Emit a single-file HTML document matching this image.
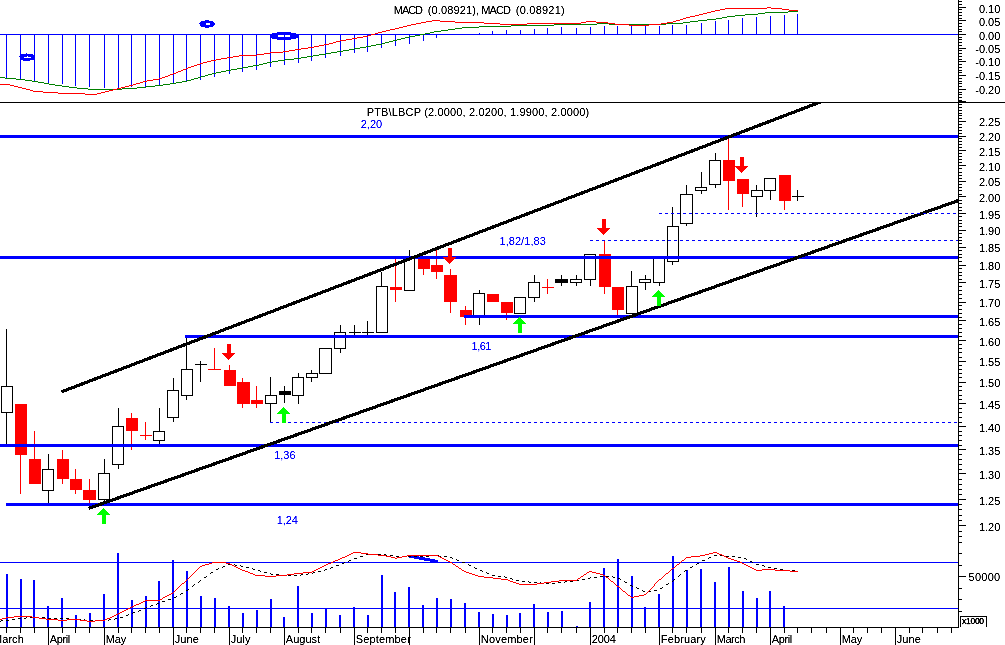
<!DOCTYPE html>
<html lang="en"><head><meta charset="utf-8"><title>PTB\LBCP chart</title>
<style>
html,body{margin:0;padding:0;background:#fff;overflow:hidden}
svg{display:block;font-family:"Liberation Sans",Arial,sans-serif;font-size:11px}
</style></head><body>
<svg width="1005" height="645" viewBox="0 0 1005 645">
<rect x="0" y="0" width="1005" height="645" fill="#fff"/>
<g shape-rendering="crispEdges">
<rect x="6" y="34" width="1" height="45" fill="#00f"/>
<rect x="20" y="34" width="1" height="45" fill="#00f"/>
<rect x="34" y="34" width="1" height="47" fill="#00f"/>
<rect x="48" y="34" width="1" height="49" fill="#00f"/>
<rect x="62" y="34" width="1" height="50" fill="#00f"/>
<rect x="75" y="34" width="1" height="52" fill="#00f"/>
<rect x="89" y="34" width="1" height="53" fill="#00f"/>
<rect x="104" y="34" width="1" height="54" fill="#00f"/>
<rect x="118" y="34" width="1" height="54" fill="#00f"/>
<rect x="131" y="34" width="1" height="53" fill="#00f"/>
<rect x="145" y="34" width="1" height="53" fill="#00f"/>
<rect x="159" y="34" width="1" height="51" fill="#00f"/>
<rect x="173" y="34" width="1" height="50" fill="#00f"/>
<rect x="186" y="34" width="1" height="48" fill="#00f"/>
<rect x="200" y="34" width="1" height="46" fill="#00f"/>
<rect x="214" y="34" width="1" height="43" fill="#00f"/>
<rect x="229" y="34" width="1" height="40" fill="#00f"/>
<rect x="242" y="34" width="1" height="38" fill="#00f"/>
<rect x="256" y="34" width="1" height="36" fill="#00f"/>
<rect x="270" y="34" width="1" height="33" fill="#00f"/>
<rect x="284" y="34" width="1" height="31" fill="#00f"/>
<rect x="298" y="34" width="1" height="29" fill="#00f"/>
<rect x="311" y="34" width="1" height="27" fill="#00f"/>
<rect x="325" y="34" width="1" height="24" fill="#00f"/>
<rect x="340" y="34" width="1" height="22" fill="#00f"/>
<rect x="354" y="34" width="1" height="19" fill="#00f"/>
<rect x="367" y="34" width="1" height="18" fill="#00f"/>
<rect x="381" y="34" width="1" height="14" fill="#00f"/>
<rect x="395" y="34" width="1" height="12" fill="#00f"/>
<rect x="409" y="34" width="1" height="10" fill="#00f"/>
<rect x="423" y="34" width="1" height="7" fill="#00f"/>
<rect x="436" y="34" width="1" height="4" fill="#00f"/>
<rect x="479" y="33" width="1" height="1" fill="#00f"/>
<rect x="492" y="31" width="1" height="3" fill="#00f"/>
<rect x="506" y="30" width="1" height="4" fill="#00f"/>
<rect x="520" y="30" width="1" height="4" fill="#00f"/>
<rect x="534" y="29" width="1" height="5" fill="#00f"/>
<rect x="547" y="28" width="1" height="6" fill="#00f"/>
<rect x="561" y="27" width="1" height="7" fill="#00f"/>
<rect x="576" y="28" width="1" height="6" fill="#00f"/>
<rect x="590" y="27" width="1" height="7" fill="#00f"/>
<rect x="604" y="26" width="1" height="8" fill="#00f"/>
<rect x="617" y="26" width="1" height="8" fill="#00f"/>
<rect x="631" y="26" width="1" height="8" fill="#00f"/>
<rect x="645" y="26" width="1" height="8" fill="#00f"/>
<rect x="659" y="26" width="1" height="8" fill="#00f"/>
<rect x="672" y="25" width="1" height="9" fill="#00f"/>
<rect x="686" y="25" width="1" height="9" fill="#00f"/>
<rect x="701" y="23" width="1" height="11" fill="#00f"/>
<rect x="715" y="21" width="1" height="13" fill="#00f"/>
<rect x="728" y="20" width="1" height="14" fill="#00f"/>
<rect x="742" y="18" width="1" height="16" fill="#00f"/>
<rect x="756" y="17" width="1" height="17" fill="#00f"/>
<rect x="770" y="16" width="1" height="18" fill="#00f"/>
<rect x="784" y="15" width="1" height="19" fill="#00f"/>
<rect x="797" y="14" width="1" height="20" fill="#00f"/>
<rect x="0" y="34" width="958" height="1" fill="#00f"/>
<path d="M0,77h5v1h-5zM5,78h11v1h-11zM16,79h9v1h-9zM25,80h7v1h-7zM32,81h6v1h-6zM38,82h6v1h-6zM44,83h5v1h-5zM49,84h6v1h-6zM55,85h7v1h-7zM62,86h7v1h-7zM69,87h8v1h-8zM77,88h11v1h-11zM88,89h34v1h-34zM122,88h15v1h-15zM137,87h9v1h-9zM146,86h9v1h-9zM155,85h8v1h-8zM163,84h7v1h-7zM170,83h6v1h-6zM176,82h6v1h-6zM182,81h5v1h-5zM187,80h4v1h-4zM191,79h3v1h-3zM194,78h4v1h-4zM198,77h3v1h-3zM201,76h4v1h-4zM205,75h3v1h-3zM208,74h4v1h-4zM212,73h4v1h-4zM216,72h5v1h-5zM221,71h5v1h-5zM226,70h5v1h-5zM231,69h6v1h-6zM237,68h5v1h-5zM242,67h6v1h-6zM248,66h5v1h-5zM253,65h6v1h-6zM259,64h4v1h-4zM263,63h4v1h-4zM267,62h5v1h-5zM272,61h6v1h-6zM278,60h7v1h-7zM285,59h9v1h-9zM294,58h7v1h-7zM301,57h6v1h-6zM307,56h6v1h-6zM313,55h6v1h-6zM319,54h7v1h-7zM326,53h5v1h-5zM331,52h6v1h-6zM337,51h6v1h-6zM343,50h6v1h-6zM349,49h5v1h-5zM354,48h6v1h-6zM360,47h6v1h-6zM366,46h5v1h-5zM371,45h5v1h-5zM376,44h6v1h-6zM382,43h3v1h-3zM385,42h4v1h-4zM389,41h4v1h-4zM393,40h4v1h-4zM397,39h4v1h-4zM401,38h4v1h-4zM405,37h4v1h-4zM409,36h6v1h-6zM415,35h5v1h-5zM420,34h5v1h-5zM425,33h5v1h-5zM430,32h4v1h-4zM434,31h7v1h-7zM441,30h7v1h-7zM448,29h7v1h-7zM455,28h7v1h-7zM462,27h17v1h-17zM479,26h32v1h-32zM511,25h43v1h-43zM554,24h43v1h-43zM597,23h12v1h-12zM609,24h57v1h-57zM666,23h17v1h-17zM683,22h7v1h-7zM690,21h8v1h-8zM698,20h9v1h-9zM707,19h9v1h-9zM716,18h6v1h-6zM722,17h5v1h-5zM727,16h8v1h-8zM735,15h10v1h-10zM745,14h13v1h-13zM758,13h7v1h-7zM765,12h23v1h-23zM788,11h10v1h-10z" fill="#008000"/>
<path d="M0,84h10v1h-10zM10,85h4v1h-4zM14,86h4v1h-4zM18,87h4v1h-4zM22,88h4v1h-4zM26,89h4v1h-4zM30,90h3v1h-3zM33,91h10v1h-10zM43,92h15v1h-15zM58,93h27v1h-27zM85,94h12v1h-12zM97,93h4v1h-4zM101,92h4v1h-4zM105,91h4v1h-4zM109,90h4v1h-4zM113,89h4v1h-4zM117,88h4v1h-4zM121,87h4v1h-4zM125,86h4v1h-4zM129,85h4v1h-4zM133,84h3v1h-3zM136,83h4v1h-4zM140,82h3v1h-3zM143,81h4v1h-4zM147,80h6v1h-6zM153,79h6v1h-6zM159,78h3v1h-3zM162,77h3v1h-3zM165,76h3v1h-3zM168,75h2v1h-2zM170,74h3v1h-3zM173,73h3v1h-3zM176,72h2v1h-2zM178,71h3v1h-3zM181,70h2v1h-2zM183,69h3v1h-3zM186,68h2v1h-2zM188,67h3v1h-3zM191,66h3v1h-3zM194,65h3v1h-3zM197,64h3v1h-3zM200,63h3v1h-3zM203,62h4v1h-4zM207,61h4v1h-4zM211,60h5v1h-5zM216,59h5v1h-5zM221,58h6v1h-6zM227,57h6v1h-6zM233,56h6v1h-6zM239,55h18v1h-18zM257,54h7v1h-7zM264,53h6v1h-6zM270,52h13v1h-13zM283,51h6v1h-6zM289,50h6v1h-6zM295,49h6v1h-6zM301,48h7v1h-7zM308,47h6v1h-6zM314,46h5v1h-5zM319,45h5v1h-5zM324,44h5v1h-5zM329,43h4v1h-4zM333,42h3v1h-3zM336,41h4v1h-4zM340,40h6v1h-6zM346,39h6v1h-6zM352,38h5v1h-5zM357,37h6v1h-6zM363,36h5v1h-5zM368,35h3v1h-3zM371,34h4v1h-4zM375,33h3v1h-3zM378,32h4v1h-4zM382,31h4v1h-4zM386,30h4v1h-4zM390,29h5v1h-5zM395,28h4v1h-4zM399,27h4v1h-4zM403,26h4v1h-4zM407,25h4v1h-4zM411,24h5v1h-5zM416,23h5v1h-5zM421,22h5v1h-5zM426,21h6v1h-6zM432,20h8v1h-8zM440,21h15v1h-15zM455,22h29v1h-29zM484,23h16v1h-16zM500,24h27v1h-27zM527,23h54v1h-54zM581,22h5v1h-5zM586,21h10v1h-10zM596,22h12v1h-12zM608,23h7v1h-7zM615,24h14v1h-14zM629,25h20v1h-20zM649,24h12v1h-12zM661,23h6v1h-6zM667,22h6v1h-6zM673,21h3v1h-3zM676,20h4v1h-4zM680,19h3v1h-3zM683,18h3v1h-3zM686,17h4v1h-4zM690,16h5v1h-5zM695,15h4v1h-4zM699,14h4v1h-4zM703,13h4v1h-4zM707,12h4v1h-4zM711,11h4v1h-4zM715,10h5v1h-5zM720,9h5v1h-5zM725,8h42v1h-42zM767,7h4v1h-4zM771,8h11v1h-11zM782,9h7v1h-7zM789,10h9v1h-9z" fill="#f00"/>
</g>
<path d="M26,53h1v1h-1zM20,54h13v1h-13zM20,55h15v1h-15zM19,56h8v1h-8zM28,56h7v1h-7zM20,57h4v1h-4zM31,57h4v1h-4zM20,58h15v1h-15zM20,59h14v1h-14zM23,60h7v1h-7z" fill="#00f" shape-rendering="crispEdges"/>
<path d="M205,20h4v1h-4zM201,21h12v1h-12zM200,22h14v1h-14zM199,23h7v1h-7zM210,23h5v1h-5zM200,24h6v1h-6zM210,24h5v1h-5zM200,25h14v1h-14zM201,26h12v1h-12zM205,27h4v1h-4z" fill="#00f" shape-rendering="crispEdges"/>
<path d="M277,32h14v1h-14zM272,33h24v1h-24zM269,34h31v1h-31zM270,35h8v1h-8zM284,35h1v1h-1zM290,35h9v1h-9zM270,36h8v1h-8zM284,36h1v1h-1zM290,36h9v1h-9zM271,37h27v1h-27zM272,38h24v1h-24zM277,39h14v1h-14z" fill="#00f" shape-rendering="crispEdges"/>
<g shape-rendering="crispEdges">
<rect x="0" y="102" width="1005" height="1" fill="#000"/>
<rect x="958" y="0" width="1" height="627" fill="#000"/>
<rect x="0" y="627" width="959" height="1" fill="#000"/>
<rect x="959" y="100" width="3" height="1" fill="#000"/>
<rect x="959" y="97" width="3" height="1" fill="#000"/>
<rect x="959" y="94" width="3" height="1" fill="#000"/>
<rect x="959" y="92" width="3" height="1" fill="#000"/>
<rect x="959" y="89" width="7" height="1" fill="#000"/>
<rect x="959" y="86" width="3" height="1" fill="#000"/>
<rect x="959" y="83" width="3" height="1" fill="#000"/>
<rect x="959" y="81" width="3" height="1" fill="#000"/>
<rect x="959" y="78" width="3" height="1" fill="#000"/>
<rect x="959" y="75" width="7" height="1" fill="#000"/>
<rect x="959" y="72" width="3" height="1" fill="#000"/>
<rect x="959" y="70" width="3" height="1" fill="#000"/>
<rect x="959" y="67" width="3" height="1" fill="#000"/>
<rect x="959" y="64" width="3" height="1" fill="#000"/>
<rect x="959" y="61" width="7" height="1" fill="#000"/>
<rect x="959" y="59" width="3" height="1" fill="#000"/>
<rect x="959" y="56" width="3" height="1" fill="#000"/>
<rect x="959" y="53" width="3" height="1" fill="#000"/>
<rect x="959" y="50" width="3" height="1" fill="#000"/>
<rect x="959" y="48" width="7" height="1" fill="#000"/>
<rect x="959" y="45" width="3" height="1" fill="#000"/>
<rect x="959" y="42" width="3" height="1" fill="#000"/>
<rect x="959" y="39" width="3" height="1" fill="#000"/>
<rect x="959" y="37" width="3" height="1" fill="#000"/>
<rect x="959" y="34" width="7" height="1" fill="#000"/>
<rect x="959" y="31" width="3" height="1" fill="#000"/>
<rect x="959" y="29" width="3" height="1" fill="#000"/>
<rect x="959" y="26" width="3" height="1" fill="#000"/>
<rect x="959" y="23" width="3" height="1" fill="#000"/>
<rect x="959" y="20" width="7" height="1" fill="#000"/>
<rect x="959" y="18" width="3" height="1" fill="#000"/>
<rect x="959" y="15" width="3" height="1" fill="#000"/>
<rect x="959" y="12" width="3" height="1" fill="#000"/>
<rect x="959" y="9" width="3" height="1" fill="#000"/>
<rect x="959" y="7" width="7" height="1" fill="#000"/>
<rect x="959" y="4" width="3" height="1" fill="#000"/>
<rect x="959" y="1" width="3" height="1" fill="#000"/>
<rect x="959" y="542" width="3" height="1" fill="#000"/>
<rect x="959" y="536" width="3" height="1" fill="#000"/>
<rect x="959" y="531" width="3" height="1" fill="#000"/>
<rect x="959" y="525" width="7" height="1" fill="#000"/>
<rect x="959" y="520" width="3" height="1" fill="#000"/>
<rect x="959" y="515" width="3" height="1" fill="#000"/>
<rect x="959" y="509" width="3" height="1" fill="#000"/>
<rect x="959" y="504" width="3" height="1" fill="#000"/>
<rect x="959" y="499" width="7" height="1" fill="#000"/>
<rect x="959" y="494" width="3" height="1" fill="#000"/>
<rect x="959" y="489" width="3" height="1" fill="#000"/>
<rect x="959" y="484" width="3" height="1" fill="#000"/>
<rect x="959" y="479" width="3" height="1" fill="#000"/>
<rect x="959" y="473" width="7" height="1" fill="#000"/>
<rect x="959" y="469" width="3" height="1" fill="#000"/>
<rect x="959" y="464" width="3" height="1" fill="#000"/>
<rect x="959" y="459" width="3" height="1" fill="#000"/>
<rect x="959" y="454" width="3" height="1" fill="#000"/>
<rect x="959" y="449" width="7" height="1" fill="#000"/>
<rect x="959" y="445" width="3" height="1" fill="#000"/>
<rect x="959" y="440" width="3" height="1" fill="#000"/>
<rect x="959" y="435" width="3" height="1" fill="#000"/>
<rect x="959" y="431" width="3" height="1" fill="#000"/>
<rect x="959" y="426" width="7" height="1" fill="#000"/>
<rect x="959" y="422" width="3" height="1" fill="#000"/>
<rect x="959" y="417" width="3" height="1" fill="#000"/>
<rect x="959" y="412" width="3" height="1" fill="#000"/>
<rect x="959" y="408" width="3" height="1" fill="#000"/>
<rect x="959" y="403" width="7" height="1" fill="#000"/>
<rect x="959" y="399" width="3" height="1" fill="#000"/>
<rect x="959" y="395" width="3" height="1" fill="#000"/>
<rect x="959" y="390" width="3" height="1" fill="#000"/>
<rect x="959" y="386" width="3" height="1" fill="#000"/>
<rect x="959" y="382" width="7" height="1" fill="#000"/>
<rect x="959" y="377" width="3" height="1" fill="#000"/>
<rect x="959" y="373" width="3" height="1" fill="#000"/>
<rect x="959" y="369" width="3" height="1" fill="#000"/>
<rect x="959" y="365" width="3" height="1" fill="#000"/>
<rect x="959" y="361" width="7" height="1" fill="#000"/>
<rect x="959" y="357" width="3" height="1" fill="#000"/>
<rect x="959" y="352" width="3" height="1" fill="#000"/>
<rect x="959" y="348" width="3" height="1" fill="#000"/>
<rect x="959" y="344" width="3" height="1" fill="#000"/>
<rect x="959" y="340" width="7" height="1" fill="#000"/>
<rect x="959" y="336" width="3" height="1" fill="#000"/>
<rect x="959" y="332" width="3" height="1" fill="#000"/>
<rect x="959" y="328" width="3" height="1" fill="#000"/>
<rect x="959" y="324" width="3" height="1" fill="#000"/>
<rect x="959" y="320" width="7" height="1" fill="#000"/>
<rect x="959" y="317" width="3" height="1" fill="#000"/>
<rect x="959" y="313" width="3" height="1" fill="#000"/>
<rect x="959" y="309" width="3" height="1" fill="#000"/>
<rect x="959" y="305" width="3" height="1" fill="#000"/>
<rect x="959" y="302" width="7" height="1" fill="#000"/>
<rect x="959" y="298" width="3" height="1" fill="#000"/>
<rect x="959" y="294" width="3" height="1" fill="#000"/>
<rect x="959" y="290" width="3" height="1" fill="#000"/>
<rect x="959" y="286" width="3" height="1" fill="#000"/>
<rect x="959" y="282" width="7" height="1" fill="#000"/>
<rect x="959" y="279" width="3" height="1" fill="#000"/>
<rect x="959" y="275" width="3" height="1" fill="#000"/>
<rect x="959" y="272" width="3" height="1" fill="#000"/>
<rect x="959" y="268" width="3" height="1" fill="#000"/>
<rect x="959" y="265" width="7" height="1" fill="#000"/>
<rect x="959" y="261" width="3" height="1" fill="#000"/>
<rect x="959" y="257" width="3" height="1" fill="#000"/>
<rect x="959" y="254" width="3" height="1" fill="#000"/>
<rect x="959" y="250" width="3" height="1" fill="#000"/>
<rect x="959" y="247" width="7" height="1" fill="#000"/>
<rect x="959" y="243" width="3" height="1" fill="#000"/>
<rect x="959" y="240" width="3" height="1" fill="#000"/>
<rect x="959" y="237" width="3" height="1" fill="#000"/>
<rect x="959" y="233" width="3" height="1" fill="#000"/>
<rect x="959" y="230" width="7" height="1" fill="#000"/>
<rect x="959" y="226" width="3" height="1" fill="#000"/>
<rect x="959" y="223" width="3" height="1" fill="#000"/>
<rect x="959" y="220" width="3" height="1" fill="#000"/>
<rect x="959" y="216" width="3" height="1" fill="#000"/>
<rect x="959" y="213" width="7" height="1" fill="#000"/>
<rect x="959" y="210" width="3" height="1" fill="#000"/>
<rect x="959" y="207" width="3" height="1" fill="#000"/>
<rect x="959" y="203" width="3" height="1" fill="#000"/>
<rect x="959" y="200" width="3" height="1" fill="#000"/>
<rect x="959" y="196" width="7" height="1" fill="#000"/>
<rect x="959" y="194" width="3" height="1" fill="#000"/>
<rect x="959" y="190" width="3" height="1" fill="#000"/>
<rect x="959" y="187" width="3" height="1" fill="#000"/>
<rect x="959" y="184" width="3" height="1" fill="#000"/>
<rect x="959" y="181" width="7" height="1" fill="#000"/>
<rect x="959" y="178" width="3" height="1" fill="#000"/>
<rect x="959" y="175" width="3" height="1" fill="#000"/>
<rect x="959" y="172" width="3" height="1" fill="#000"/>
<rect x="959" y="168" width="3" height="1" fill="#000"/>
<rect x="959" y="165" width="7" height="1" fill="#000"/>
<rect x="959" y="162" width="3" height="1" fill="#000"/>
<rect x="959" y="159" width="3" height="1" fill="#000"/>
<rect x="959" y="156" width="3" height="1" fill="#000"/>
<rect x="959" y="153" width="3" height="1" fill="#000"/>
<rect x="959" y="150" width="7" height="1" fill="#000"/>
<rect x="959" y="147" width="3" height="1" fill="#000"/>
<rect x="959" y="144" width="3" height="1" fill="#000"/>
<rect x="959" y="141" width="3" height="1" fill="#000"/>
<rect x="959" y="138" width="3" height="1" fill="#000"/>
<rect x="959" y="136" width="7" height="1" fill="#000"/>
<rect x="959" y="133" width="3" height="1" fill="#000"/>
<rect x="959" y="130" width="3" height="1" fill="#000"/>
<rect x="959" y="127" width="3" height="1" fill="#000"/>
<rect x="959" y="124" width="3" height="1" fill="#000"/>
<rect x="959" y="121" width="7" height="1" fill="#000"/>
<rect x="959" y="118" width="3" height="1" fill="#000"/>
<rect x="959" y="115" width="3" height="1" fill="#000"/>
<rect x="959" y="113" width="3" height="1" fill="#000"/>
<rect x="959" y="110" width="3" height="1" fill="#000"/>
<rect x="959" y="107" width="3" height="1" fill="#000"/>
<rect x="959" y="104" width="3" height="1" fill="#000"/>
<rect x="959" y="101" width="7" height="1" fill="#000"/>
<rect x="959" y="553" width="3" height="1" fill="#000"/>
<rect x="959" y="565" width="3" height="1" fill="#000"/>
<rect x="959" y="576" width="7" height="1" fill="#000"/>
<rect x="959" y="588" width="3" height="1" fill="#000"/>
<rect x="959" y="599" width="3" height="1" fill="#000"/>
<rect x="959" y="611" width="3" height="1" fill="#000"/>
</g>
<g shape-rendering="crispEdges">
<rect x="6" y="329" width="1" height="116" fill="#000"/>
<rect x="1.5" y="386.5" width="11" height="26" fill="#fff" stroke="#000" stroke-width="1"/>
<rect x="20" y="404" width="1" height="90" fill="#f00"/>
<rect x="15" y="404" width="12" height="51" fill="#f00"/>
<rect x="34" y="431" width="1" height="53" fill="#f00"/>
<rect x="29" y="459" width="12" height="25" fill="#f00"/>
<rect x="48" y="454" width="1" height="49" fill="#000"/>
<rect x="42.5" y="469.5" width="11" height="21" fill="#fff" stroke="#000" stroke-width="1"/>
<rect x="62" y="450" width="1" height="34" fill="#f00"/>
<rect x="57" y="459" width="12" height="20" fill="#f00"/>
<rect x="75" y="469" width="1" height="25" fill="#f00"/>
<rect x="70" y="479" width="12" height="11" fill="#f00"/>
<rect x="89" y="479" width="1" height="31" fill="#f00"/>
<rect x="83" y="490" width="13" height="10" fill="#f00"/>
<rect x="104" y="459" width="1" height="43" fill="#000"/>
<rect x="98.5" y="473.5" width="11" height="26" fill="#fff" stroke="#000" stroke-width="1"/>
<rect x="118" y="408" width="1" height="61" fill="#000"/>
<rect x="112.5" y="426.5" width="11" height="38" fill="#fff" stroke="#000" stroke-width="1"/>
<rect x="131" y="413" width="1" height="37" fill="#f00"/>
<rect x="126" y="418" width="12" height="13" fill="#f00"/>
<rect x="145" y="422" width="1" height="18" fill="#f00"/>
<rect x="140" y="435" width="12" height="1" fill="#f00"/>
<rect x="159" y="408" width="1" height="36" fill="#000"/>
<rect x="153.5" y="431.5" width="11" height="9" fill="#fff" stroke="#000" stroke-width="1"/>
<rect x="173" y="378" width="1" height="44" fill="#000"/>
<rect x="167.5" y="390.5" width="11" height="27" fill="#fff" stroke="#000" stroke-width="1"/>
<rect x="186" y="335" width="1" height="65" fill="#000"/>
<rect x="181.5" y="369.5" width="11" height="26" fill="#fff" stroke="#000" stroke-width="1"/>
<rect x="200" y="361" width="1" height="21" fill="#000"/>
<rect x="195" y="364" width="12" height="1" fill="#000"/>
<rect x="214" y="348" width="1" height="21" fill="#f00"/>
<rect x="208" y="369" width="13" height="1" fill="#f00"/>
<rect x="229" y="365" width="1" height="21" fill="#f00"/>
<rect x="224" y="370" width="12" height="16" fill="#f00"/>
<rect x="242" y="378" width="1" height="30" fill="#f00"/>
<rect x="237" y="382" width="13" height="22" fill="#f00"/>
<rect x="256" y="386" width="1" height="22" fill="#f00"/>
<rect x="251" y="400" width="12" height="4" fill="#f00"/>
<rect x="270" y="377" width="1" height="45" fill="#000"/>
<rect x="265.5" y="395.5" width="11" height="8" fill="#fff" stroke="#000" stroke-width="1"/>
<rect x="284" y="386" width="1" height="17" fill="#000"/>
<rect x="279" y="391" width="12" height="4" fill="#000"/>
<rect x="298" y="373" width="1" height="31" fill="#000"/>
<rect x="292.5" y="377.5" width="11" height="18" fill="#fff" stroke="#000" stroke-width="1"/>
<rect x="311" y="370" width="1" height="12" fill="#000"/>
<rect x="306.5" y="373.5" width="11" height="4" fill="#fff" stroke="#000" stroke-width="1"/>
<rect x="325" y="348" width="1" height="25" fill="#000"/>
<rect x="319.5" y="348.5" width="12" height="25" fill="#fff" stroke="#000" stroke-width="1"/>
<rect x="340" y="325" width="1" height="28" fill="#000"/>
<rect x="334.5" y="332.5" width="11" height="16" fill="#fff" stroke="#000" stroke-width="1"/>
<rect x="354" y="325" width="1" height="10" fill="#000"/>
<rect x="349" y="332" width="12" height="1" fill="#000"/>
<rect x="367" y="321" width="1" height="14" fill="#000"/>
<rect x="362" y="332" width="12" height="1" fill="#000"/>
<rect x="381" y="272" width="1" height="60" fill="#000"/>
<rect x="376.5" y="286.5" width="11" height="46" fill="#fff" stroke="#000" stroke-width="1"/>
<rect x="395" y="258" width="1" height="44" fill="#f00"/>
<rect x="390" y="287" width="12" height="3" fill="#f00"/>
<rect x="409" y="250" width="1" height="40" fill="#000"/>
<rect x="404.5" y="258.5" width="10" height="32" fill="#fff" stroke="#000" stroke-width="1"/>
<rect x="423" y="258" width="1" height="17" fill="#f00"/>
<rect x="418" y="258" width="12" height="11" fill="#f00"/>
<rect x="436" y="249" width="1" height="30" fill="#f00"/>
<rect x="431" y="265" width="12" height="7" fill="#f00"/>
<rect x="450" y="269" width="1" height="44" fill="#f00"/>
<rect x="444" y="275" width="13" height="27" fill="#f00"/>
<rect x="465" y="306" width="1" height="19" fill="#f00"/>
<rect x="460" y="310" width="12" height="7" fill="#f00"/>
<rect x="479" y="290" width="1" height="35" fill="#000"/>
<rect x="473.5" y="293.5" width="11" height="23" fill="#fff" stroke="#000" stroke-width="1"/>
<rect x="493" y="294" width="1" height="8" fill="#f00"/>
<rect x="487" y="294" width="12" height="8" fill="#f00"/>
<rect x="506" y="302" width="1" height="18" fill="#f00"/>
<rect x="501" y="302" width="12" height="11" fill="#f00"/>
<rect x="520" y="297" width="1" height="17" fill="#000"/>
<rect x="514.5" y="297.5" width="11" height="16" fill="#fff" stroke="#000" stroke-width="1"/>
<rect x="534" y="275" width="1" height="27" fill="#000"/>
<rect x="528.5" y="282.5" width="11" height="15" fill="#fff" stroke="#000" stroke-width="1"/>
<rect x="547" y="279" width="1" height="15" fill="#f00"/>
<rect x="542" y="287" width="12" height="1" fill="#f00"/>
<rect x="561" y="275" width="1" height="11" fill="#000"/>
<rect x="555" y="279" width="13" height="4" fill="#000"/>
<rect x="576" y="275" width="1" height="11" fill="#000"/>
<rect x="570.5" y="279.5" width="11" height="3" fill="#fff" stroke="#000" stroke-width="1"/>
<rect x="590" y="254" width="1" height="32" fill="#000"/>
<rect x="584.5" y="254.5" width="11" height="25" fill="#fff" stroke="#000" stroke-width="1"/>
<rect x="604" y="240" width="1" height="54" fill="#f00"/>
<rect x="599" y="254" width="12" height="33" fill="#f00"/>
<rect x="617" y="287" width="1" height="28" fill="#f00"/>
<rect x="612" y="287" width="12" height="23" fill="#f00"/>
<rect x="631" y="271" width="1" height="42" fill="#000"/>
<rect x="626.5" y="286.5" width="11" height="27" fill="#fff" stroke="#000" stroke-width="1"/>
<rect x="645" y="275" width="1" height="15" fill="#000"/>
<rect x="639.5" y="279.5" width="11" height="3" fill="#fff" stroke="#000" stroke-width="1"/>
<rect x="659" y="258" width="1" height="28" fill="#000"/>
<rect x="653.5" y="258.5" width="11" height="24" fill="#fff" stroke="#000" stroke-width="1"/>
<rect x="672" y="207" width="1" height="58" fill="#000"/>
<rect x="667.5" y="226.5" width="11" height="35" fill="#fff" stroke="#000" stroke-width="1"/>
<rect x="686" y="185" width="1" height="41" fill="#000"/>
<rect x="680.5" y="194.5" width="12" height="29" fill="#fff" stroke="#000" stroke-width="1"/>
<rect x="701" y="172" width="1" height="22" fill="#000"/>
<rect x="695.5" y="187.5" width="11" height="3" fill="#fff" stroke="#000" stroke-width="1"/>
<rect x="715" y="153" width="1" height="35" fill="#000"/>
<rect x="709.5" y="160.5" width="11" height="24" fill="#fff" stroke="#000" stroke-width="1"/>
<rect x="728" y="139" width="1" height="71" fill="#f00"/>
<rect x="723" y="160" width="12" height="21" fill="#f00"/>
<rect x="742" y="179" width="1" height="28" fill="#f00"/>
<rect x="737" y="179" width="12" height="15" fill="#f00"/>
<rect x="756" y="185" width="1" height="32" fill="#000"/>
<rect x="751.5" y="190.5" width="11" height="6" fill="#fff" stroke="#000" stroke-width="1"/>
<rect x="770" y="178" width="1" height="22" fill="#000"/>
<rect x="764.5" y="178.5" width="11" height="12" fill="#fff" stroke="#000" stroke-width="1"/>
<rect x="784" y="175" width="1" height="35" fill="#f00"/>
<rect x="779" y="175" width="12" height="26" fill="#f00"/>
<rect x="797" y="190" width="1" height="11" fill="#000"/>
<rect x="792" y="196" width="12" height="1" fill="#000"/>
<rect x="0" y="135" width="958" height="3" fill="#00f"/>
<rect x="0" y="256" width="958" height="3" fill="#00f"/>
<rect x="464" y="315" width="494" height="3" fill="#00f"/>
<rect x="185" y="335" width="773" height="3" fill="#00f"/>
<rect x="0" y="444" width="958" height="3" fill="#00f"/>
<rect x="6" y="503" width="952" height="3" fill="#00f"/>
</g>
<g shape-rendering="crispEdges">
<line x1="590" y1="240.5" x2="958" y2="240.5" stroke="#00f" stroke-width="1" stroke-dasharray="3,3"/>
<line x1="270" y1="422.5" x2="958" y2="422.5" stroke="#00f" stroke-width="1" stroke-dasharray="3,3"/>
</g>
<clipPath id="cp"><rect x="0" y="103" width="958" height="524"/></clipPath>
<g clip-path="url(#cp)" stroke="#000" stroke-width="3.2" shape-rendering="crispEdges">
<line x1="61.3" y1="391.9" x2="830.0" y2="98.3"/>
<line x1="88.6" y1="508.4" x2="965.0" y2="198.2"/>
</g>
<g shape-rendering="crispEdges">
<line x1="659" y1="213.5" x2="958" y2="213.5" stroke="#00f" stroke-width="1" stroke-dasharray="3,3"/>
</g>
<path d="M227,344h4v9h-4zM222,353h13v1h-13zM223,354h11v1h-11zM224,355h9v1h-9zM225,356h7v1h-7zM226,357h5v1h-5zM227,358h3v1h-3zM228,359h1v1h-1z" fill="#f00" shape-rendering="crispEdges"/>
<path d="M448,248h4v9h-4zM443,257h13v1h-13zM444,258h11v1h-11zM445,259h9v1h-9zM446,260h7v1h-7zM447,261h5v1h-5zM448,262h3v1h-3zM449,263h1v1h-1z" fill="#f00" shape-rendering="crispEdges"/>
<path d="M602,219h4v9h-4zM597,228h13v1h-13zM598,229h11v1h-11zM599,230h9v1h-9zM600,231h7v1h-7zM601,232h5v1h-5zM602,233h3v1h-3zM603,234h1v1h-1z" fill="#f00" shape-rendering="crispEdges"/>
<path d="M740,157h4v9h-4zM735,166h13v1h-13zM736,167h11v1h-11zM737,168h9v1h-9zM738,169h7v1h-7zM739,170h5v1h-5zM740,171h3v1h-3zM741,172h1v1h-1z" fill="#f00" shape-rendering="crispEdges"/>
<path d="M102,515h4v9h-4zM103,508h1v1h-1zM102,509h3v1h-3zM101,510h5v1h-5zM100,511h7v1h-7zM99,512h9v1h-9zM98,513h11v1h-11zM97,514h13v1h-13z" fill="#0f0" shape-rendering="crispEdges"/>
<path d="M282,414h4v9h-4zM283,407h1v1h-1zM282,408h3v1h-3zM281,409h5v1h-5zM280,410h7v1h-7zM279,411h9v1h-9zM278,412h11v1h-11zM277,413h13v1h-13z" fill="#0f0" shape-rendering="crispEdges"/>
<path d="M518,324h4v9h-4zM519,317h1v1h-1zM518,318h3v1h-3zM517,319h5v1h-5zM516,320h7v1h-7zM515,321h9v1h-9zM514,322h11v1h-11zM513,323h13v1h-13z" fill="#0f0" shape-rendering="crispEdges"/>
<path d="M657,297h4v9h-4zM658,290h1v1h-1zM657,291h3v1h-3zM656,292h5v1h-5zM655,293h7v1h-7zM654,294h9v1h-9zM653,295h11v1h-11zM652,296h13v1h-13z" fill="#0f0" shape-rendering="crispEdges"/>
<g shape-rendering="crispEdges">
<rect x="0" y="562" width="958" height="1" fill="#00f"/>
<rect x="0" y="608" width="958" height="1" fill="#00f"/>
<rect x="6" y="574" width="2" height="53" fill="#00f"/>
<rect x="20" y="579" width="2" height="48" fill="#00f"/>
<rect x="33" y="580" width="2" height="47" fill="#00f"/>
<rect x="47" y="606" width="2" height="21" fill="#00f"/>
<rect x="61" y="598" width="2" height="29" fill="#00f"/>
<rect x="75" y="615" width="2" height="12" fill="#00f"/>
<rect x="89" y="613" width="2" height="14" fill="#00f"/>
<rect x="103" y="594" width="2" height="33" fill="#00f"/>
<rect x="117" y="553" width="2" height="74" fill="#00f"/>
<rect x="131" y="600" width="2" height="27" fill="#00f"/>
<rect x="145" y="596" width="2" height="31" fill="#00f"/>
<rect x="158" y="581" width="2" height="46" fill="#00f"/>
<rect x="172" y="560" width="2" height="67" fill="#00f"/>
<rect x="186" y="571" width="2" height="56" fill="#00f"/>
<rect x="200" y="596" width="2" height="31" fill="#00f"/>
<rect x="214" y="598" width="2" height="29" fill="#00f"/>
<rect x="228" y="606" width="2" height="21" fill="#00f"/>
<rect x="242" y="613" width="2" height="14" fill="#00f"/>
<rect x="256" y="610" width="2" height="17" fill="#00f"/>
<rect x="270" y="599" width="2" height="28" fill="#00f"/>
<rect x="283" y="617" width="2" height="10" fill="#00f"/>
<rect x="297" y="586" width="2" height="41" fill="#00f"/>
<rect x="311" y="613" width="2" height="14" fill="#00f"/>
<rect x="325" y="608" width="2" height="19" fill="#00f"/>
<rect x="339" y="615" width="2" height="12" fill="#00f"/>
<rect x="353" y="607" width="2" height="20" fill="#00f"/>
<rect x="367" y="615" width="2" height="12" fill="#00f"/>
<rect x="381" y="575" width="2" height="52" fill="#00f"/>
<rect x="394" y="592" width="2" height="35" fill="#00f"/>
<rect x="408" y="587" width="2" height="40" fill="#00f"/>
<rect x="422" y="605" width="2" height="22" fill="#00f"/>
<rect x="436" y="598" width="2" height="29" fill="#00f"/>
<rect x="450" y="599" width="2" height="28" fill="#00f"/>
<rect x="464" y="603" width="2" height="24" fill="#00f"/>
<rect x="478" y="612" width="2" height="15" fill="#00f"/>
<rect x="492" y="614" width="2" height="13" fill="#00f"/>
<rect x="506" y="615" width="2" height="12" fill="#00f"/>
<rect x="519" y="613" width="2" height="14" fill="#00f"/>
<rect x="533" y="604" width="2" height="23" fill="#00f"/>
<rect x="547" y="612" width="2" height="15" fill="#00f"/>
<rect x="561" y="611" width="2" height="16" fill="#00f"/>
<rect x="576" y="626" width="2" height="1" fill="#00f"/>
<rect x="589" y="602" width="2" height="25" fill="#00f"/>
<rect x="603" y="568" width="2" height="59" fill="#00f"/>
<rect x="617" y="559" width="2" height="68" fill="#00f"/>
<rect x="631" y="576" width="2" height="51" fill="#00f"/>
<rect x="644" y="607" width="2" height="20" fill="#00f"/>
<rect x="658" y="594" width="2" height="33" fill="#00f"/>
<rect x="672" y="556" width="2" height="71" fill="#00f"/>
<rect x="686" y="570" width="2" height="57" fill="#00f"/>
<rect x="700" y="569" width="2" height="58" fill="#00f"/>
<rect x="714" y="582" width="2" height="45" fill="#00f"/>
<rect x="728" y="567" width="2" height="60" fill="#00f"/>
<rect x="742" y="591" width="2" height="36" fill="#00f"/>
<rect x="756" y="598" width="2" height="29" fill="#00f"/>
<rect x="769" y="591" width="2" height="36" fill="#00f"/>
<rect x="783" y="606" width="2" height="21" fill="#00f"/>
<line x1="408.7" y1="556" x2="437.6" y2="561.5" stroke="#00f" stroke-width="3"/>
<path d="M0,621h1v1h-1zM1,620h2v1h-2zM6,620h3v1h-3zM12,619h3v1h-3zM18,618h3v1h-3zM24,618h2v1h-2zM26,617h1v1h-1zM30,617h3v1h-3zM36,617h3v1h-3zM42,617h3v1h-3zM48,618h3v1h-3zM54,618h3v1h-3zM60,618h3v1h-3zM66,618h3v1h-3zM72,619h3v1h-3zM78,619h3v1h-3zM84,619h1v1h-1zM85,620h2v1h-2zM90,620h3v1h-3zM96,620h3v1h-3zM102,620h3v1h-3zM108,620h1v1h-1zM109,619h2v1h-2zM114,619h1v1h-1zM115,618h2v1h-2zM120,617h3v1h-3zM126,615h2v1h-2zM128,614h1v1h-1zM132,613h1v1h-1zM133,612h2v1h-2zM138,611h1v1h-1zM139,610h2v1h-2zM144,608h2v1h-2zM146,607h1v1h-1zM150,606h1v1h-1zM151,605h2v1h-2zM156,604h1v1h-1zM157,603h2v1h-2zM162,601h3v1h-3zM168,599h3v1h-3zM174,597h2v1h-2zM176,596h1v1h-1zM180,594h1v1h-1zM181,593h2v1h-2zM186,590h2v1h-2zM188,589h1v1h-1zM192,586h1v1h-1zM193,585h1v1h-1zM194,584h1v1h-1zM198,582h1v1h-1zM199,581h1v1h-1zM200,580h1v1h-1zM204,577h2v1h-2zM206,576h1v1h-1zM210,573h1v1h-1zM211,572h2v1h-2zM216,569h2v1h-2zM218,568h1v1h-1zM222,567h1v1h-1zM223,566h2v1h-2zM228,564h3v1h-3zM234,564h1v1h-1zM235,565h2v1h-2zM240,565h1v1h-1zM241,566h2v1h-2zM246,567h3v1h-3zM252,568h1v1h-1zM253,569h2v1h-2zM258,570h2v1h-2zM260,571h1v1h-1zM264,572h3v1h-3zM270,573h1v1h-1zM271,574h2v1h-2zM276,574h3v1h-3zM282,575h3v1h-3zM288,575h3v1h-3zM294,575h3v1h-3zM300,575h1v1h-1zM301,574h2v1h-2zM306,574h2v1h-2zM308,573h1v1h-1zM312,573h1v1h-1zM313,572h2v1h-2zM318,571h3v1h-3zM324,570h1v1h-1zM325,569h2v1h-2zM330,568h1v1h-1zM331,567h2v1h-2zM336,565h3v1h-3zM342,563h2v1h-2zM344,562h1v1h-1zM348,561h1v1h-1zM349,560h2v1h-2zM354,558h3v1h-3zM360,556h3v1h-3zM366,554h3v1h-3zM372,554h3v1h-3zM378,554h3v1h-3zM384,554h2v1h-2zM386,555h1v1h-1zM390,555h3v1h-3zM396,556h3v1h-3zM402,556h3v1h-3zM408,556h3v1h-3zM414,556h3v1h-3zM420,556h3v1h-3zM426,556h3v1h-3zM432,555h3v1h-3zM438,555h1v1h-1zM439,556h2v1h-2zM444,556h3v1h-3zM450,557h2v1h-2zM452,558h1v1h-1zM456,559h1v1h-1zM457,560h2v1h-2zM462,562h3v1h-3zM468,564h1v1h-1zM469,565h2v1h-2zM474,567h1v1h-1zM475,568h2v1h-2zM480,570h2v1h-2zM482,571h1v1h-1zM486,572h1v1h-1zM487,573h2v1h-2zM492,575h3v1h-3zM498,576h3v1h-3zM504,576h1v1h-1zM505,577h2v1h-2zM510,578h2v1h-2zM512,579h1v1h-1zM516,580h3v1h-3zM522,581h3v1h-3zM528,581h1v1h-1zM529,582h2v1h-2zM534,582h3v1h-3zM540,582h1v1h-1zM541,583h2v1h-2zM546,583h3v1h-3zM552,583h3v1h-3zM558,582h3v1h-3zM564,582h1v1h-1zM565,581h2v1h-2zM570,581h3v1h-3zM576,580h3v1h-3zM582,579h3v1h-3zM588,578h2v1h-2zM590,577h1v1h-1zM594,577h3v1h-3zM600,576h3v1h-3zM606,576h3v1h-3zM612,576h1v1h-1zM613,577h2v1h-2zM618,578h2v1h-2zM620,579h1v1h-1zM624,581h1v1h-1zM625,582h2v1h-2zM630,585h2v1h-2zM632,586h1v1h-1zM636,587h1v1h-1zM637,588h2v1h-2zM642,590h1v1h-1zM643,591h2v1h-2zM648,591h3v1h-3zM654,590h3v1h-3zM660,588h2v1h-2zM662,587h1v1h-1zM666,584h2v1h-2zM668,583h1v1h-1zM672,581h1v1h-1zM673,580h1v1h-1zM674,579h1v1h-1zM678,576h1v1h-1zM679,575h1v1h-1zM680,574h1v1h-1zM684,571h1v1h-1zM685,570h2v1h-2zM690,567h2v1h-2zM692,566h1v1h-1zM696,564h1v1h-1zM697,563h2v1h-2zM702,560h3v1h-3zM708,558h1v1h-1zM709,557h2v1h-2zM714,555h3v1h-3zM720,555h3v1h-3zM726,556h3v1h-3zM732,556h3v1h-3zM738,557h3v1h-3zM744,558h2v1h-2zM746,559h1v1h-1zM750,561h2v1h-2zM752,562h1v1h-1zM756,564h3v1h-3zM762,565h2v1h-2zM764,566h1v1h-1zM768,567h3v1h-3zM774,568h3v1h-3zM780,569h3v1h-3zM786,570h3v1h-3zM792,570h3v1h-3z" fill="#000"/>
<path d="M0,619h2v1h-2zM2,618h4v1h-4zM6,617h8v1h-8zM14,616h18v1h-18zM32,617h7v1h-7zM39,618h7v1h-7zM46,619h12v1h-12zM58,620h9v1h-9zM67,619h13v1h-13zM80,620h7v1h-7zM87,621h8v1h-8zM95,620h10v1h-10zM105,619h2v1h-2zM107,618h3v1h-3zM110,617h2v1h-2zM112,616h2v1h-2zM114,615h2v1h-2zM116,614h2v1h-2zM118,613h2v1h-2zM120,612h2v1h-2zM122,611h2v1h-2zM124,610h2v1h-2zM126,609h2v1h-2zM128,608h2v1h-2zM130,607h2v1h-2zM132,606h2v1h-2zM134,605h2v1h-2zM136,604h3v1h-3zM139,603h2v1h-2zM141,602h2v1h-2zM143,601h2v1h-2zM145,600h15v1h-15zM160,599h2v1h-2zM162,598h1v1h-1zM163,597h2v1h-2zM165,596h2v1h-2zM167,595h2v1h-2zM169,594h2v1h-2zM171,593h2v1h-2zM173,592h1v1h-1zM174,591h1v1h-1zM175,590h1v1h-1zM176,589h1v1h-1zM177,588h1v1h-1zM178,587h1v1h-1zM179,586h1v1h-1zM180,585h1v1h-1zM181,584h1v1h-1zM182,583h2v1h-2zM184,582h1v1h-1zM185,581h1v1h-1zM186,580h1v1h-1zM187,579h1v1h-1zM188,578h1v1h-1zM189,577h1v1h-1zM190,576h1v1h-1zM191,575h1v1h-1zM192,574h1v1h-1zM193,573h1v1h-1zM194,572h1v1h-1zM195,571h1v1h-1zM196,570h1v1h-1zM197,569h1v1h-1zM198,568h1v1h-1zM199,567h1v1h-1zM200,566h2v1h-2zM202,565h3v1h-3zM205,564h4v1h-4zM209,563h3v1h-3zM212,562h14v1h-14zM226,563h4v1h-4zM230,564h2v1h-2zM232,565h2v1h-2zM234,566h2v1h-2zM236,567h2v1h-2zM238,568h2v1h-2zM240,569h2v1h-2zM242,570h3v1h-3zM245,571h3v1h-3zM248,572h2v1h-2zM250,573h3v1h-3zM253,574h2v1h-2zM255,575h10v1h-10zM265,576h11v1h-11zM276,575h11v1h-11zM287,574h7v1h-7zM294,573h9v1h-9zM303,572h9v1h-9zM312,571h2v1h-2zM314,570h2v1h-2zM316,569h2v1h-2zM318,568h2v1h-2zM320,567h2v1h-2zM322,566h2v1h-2zM324,565h2v1h-2zM326,564h2v1h-2zM328,563h3v1h-3zM331,562h2v1h-2zM333,561h2v1h-2zM335,560h3v1h-3zM338,559h2v1h-2zM340,558h2v1h-2zM342,557h3v1h-3zM345,556h2v1h-2zM347,555h2v1h-2zM349,554h2v1h-2zM351,553h2v1h-2zM353,552h8v1h-8zM361,553h7v1h-7zM368,554h10v1h-10zM378,555h8v1h-8zM386,556h5v1h-5zM391,557h4v1h-4zM395,558h2v1h-2zM397,557h5v1h-5zM402,556h5v1h-5zM407,555h31v1h-31zM438,556h2v1h-2zM440,557h2v1h-2zM442,558h2v1h-2zM444,559h2v1h-2zM446,560h2v1h-2zM448,561h2v1h-2zM450,562h2v1h-2zM452,563h1v1h-1zM453,564h2v1h-2zM455,565h1v1h-1zM456,566h2v1h-2zM458,567h1v1h-1zM459,568h2v1h-2zM461,569h1v1h-1zM462,570h2v1h-2zM464,571h2v1h-2zM466,572h3v1h-3zM469,573h3v1h-3zM472,574h3v1h-3zM475,575h3v1h-3zM478,576h6v1h-6zM484,577h9v1h-9zM493,578h8v1h-8zM501,579h7v1h-7zM508,580h2v1h-2zM510,581h3v1h-3zM513,582h3v1h-3zM516,583h3v1h-3zM519,584h18v1h-18zM537,583h7v1h-7zM544,582h7v1h-7zM551,581h8v1h-8zM559,580h18v1h-18zM577,579h1v1h-1zM578,578h2v1h-2zM580,577h1v1h-1zM581,576h2v1h-2zM583,575h1v1h-1zM584,574h2v1h-2zM586,573h1v1h-1zM587,572h2v1h-2zM589,571h3v1h-3zM592,572h4v1h-4zM596,573h4v1h-4zM600,574h3v1h-3zM603,575h2v1h-2zM605,576h1v1h-1zM606,577h2v1h-2zM608,578h1v1h-1zM609,579h1v1h-1zM610,580h1v1h-1zM611,581h2v1h-2zM613,582h1v1h-1zM614,583h1v1h-1zM615,584h1v1h-1zM616,585h1v1h-1zM617,586h2v1h-2zM619,587h1v1h-1zM620,588h1v1h-1zM621,589h1v1h-1zM622,590h1v1h-1zM623,591h2v1h-2zM625,592h1v1h-1zM626,593h1v1h-1zM627,594h1v1h-1zM628,595h2v1h-2zM630,596h1v1h-1zM631,597h3v1h-3zM634,596h5v1h-5zM639,595h5v1h-5zM644,594h2v1h-2zM646,593h1v1h-1zM647,592h1v1h-1zM648,591h1v1h-1zM649,590h1v1h-1zM650,589h1v1h-1zM651,588h1v1h-1zM652,587h1v1h-1zM653,586h1v1h-1zM654,585h1v1h-1zM654,584h1v1h-1zM655,583h1v1h-1zM656,582h1v1h-1zM657,581h1v1h-1zM658,580h1v1h-1zM659,579h2v1h-2zM661,578h1v1h-1zM662,577h1v1h-1zM663,576h1v1h-1zM664,575h1v1h-1zM665,574h1v1h-1zM666,573h2v1h-2zM668,572h1v1h-1zM669,571h1v1h-1zM670,570h1v1h-1zM671,569h1v1h-1zM672,568h2v1h-2zM674,567h1v1h-1zM675,566h1v1h-1zM676,565h1v1h-1zM677,564h2v1h-2zM679,563h1v1h-1zM680,562h1v1h-1zM681,561h1v1h-1zM682,560h2v1h-2zM684,559h1v1h-1zM685,558h1v1h-1zM686,557h5v1h-5zM691,556h9v1h-9zM700,555h5v1h-5zM705,554h4v1h-4zM709,553h4v1h-4zM713,552h4v1h-4zM717,553h2v1h-2zM719,554h3v1h-3zM722,555h2v1h-2zM724,556h2v1h-2zM726,557h2v1h-2zM728,558h3v1h-3zM731,559h3v1h-3zM734,560h3v1h-3zM737,561h3v1h-3zM740,562h2v1h-2zM742,563h2v1h-2zM744,564h2v1h-2zM746,565h2v1h-2zM748,566h2v1h-2zM750,567h2v1h-2zM752,568h2v1h-2zM754,569h2v1h-2zM756,570h6v1h-6zM762,569h13v1h-13zM775,570h15v1h-15zM790,571h8v1h-8z" fill="#f00"/>
<rect x="6" y="627" width="1" height="6" fill="#000"/>
<rect x="20" y="627" width="1" height="6" fill="#000"/>
<rect x="34" y="627" width="1" height="6" fill="#000"/>
<rect x="48" y="627" width="1" height="18" fill="#000"/>
<rect x="62" y="627" width="1" height="6" fill="#000"/>
<rect x="75" y="627" width="1" height="6" fill="#000"/>
<rect x="89" y="627" width="1" height="6" fill="#000"/>
<rect x="104" y="627" width="1" height="18" fill="#000"/>
<rect x="118" y="627" width="1" height="6" fill="#000"/>
<rect x="131" y="627" width="1" height="6" fill="#000"/>
<rect x="145" y="627" width="1" height="6" fill="#000"/>
<rect x="159" y="627" width="1" height="6" fill="#000"/>
<rect x="173" y="627" width="1" height="18" fill="#000"/>
<rect x="186" y="627" width="1" height="6" fill="#000"/>
<rect x="200" y="627" width="1" height="6" fill="#000"/>
<rect x="214" y="627" width="1" height="6" fill="#000"/>
<rect x="229" y="627" width="1" height="18" fill="#000"/>
<rect x="242" y="627" width="1" height="6" fill="#000"/>
<rect x="256" y="627" width="1" height="6" fill="#000"/>
<rect x="270" y="627" width="1" height="6" fill="#000"/>
<rect x="284" y="627" width="1" height="18" fill="#000"/>
<rect x="298" y="627" width="1" height="6" fill="#000"/>
<rect x="311" y="627" width="1" height="6" fill="#000"/>
<rect x="325" y="627" width="1" height="6" fill="#000"/>
<rect x="340" y="627" width="1" height="6" fill="#000"/>
<rect x="354" y="627" width="1" height="18" fill="#000"/>
<rect x="367" y="627" width="1" height="6" fill="#000"/>
<rect x="381" y="627" width="1" height="6" fill="#000"/>
<rect x="395" y="627" width="1" height="6" fill="#000"/>
<rect x="409" y="627" width="1" height="18" fill="#000"/>
<rect x="423" y="627" width="1" height="6" fill="#000"/>
<rect x="436" y="627" width="1" height="6" fill="#000"/>
<rect x="450" y="627" width="1" height="6" fill="#000"/>
<rect x="465" y="627" width="1" height="6" fill="#000"/>
<rect x="479" y="627" width="1" height="18" fill="#000"/>
<rect x="492" y="627" width="1" height="6" fill="#000"/>
<rect x="506" y="627" width="1" height="6" fill="#000"/>
<rect x="520" y="627" width="1" height="6" fill="#000"/>
<rect x="534" y="627" width="1" height="18" fill="#000"/>
<rect x="547" y="627" width="1" height="6" fill="#000"/>
<rect x="561" y="627" width="1" height="6" fill="#000"/>
<rect x="576" y="627" width="1" height="6" fill="#000"/>
<rect x="590" y="627" width="1" height="18" fill="#000"/>
<rect x="604" y="627" width="1" height="6" fill="#000"/>
<rect x="617" y="627" width="1" height="6" fill="#000"/>
<rect x="631" y="627" width="1" height="6" fill="#000"/>
<rect x="645" y="627" width="1" height="6" fill="#000"/>
<rect x="659" y="627" width="1" height="18" fill="#000"/>
<rect x="672" y="627" width="1" height="6" fill="#000"/>
<rect x="686" y="627" width="1" height="6" fill="#000"/>
<rect x="701" y="627" width="1" height="6" fill="#000"/>
<rect x="715" y="627" width="1" height="18" fill="#000"/>
<rect x="728" y="627" width="1" height="6" fill="#000"/>
<rect x="742" y="627" width="1" height="6" fill="#000"/>
<rect x="756" y="627" width="1" height="6" fill="#000"/>
<rect x="770" y="627" width="1" height="18" fill="#000"/>
<rect x="784" y="627" width="1" height="6" fill="#000"/>
<rect x="797" y="627" width="1" height="6" fill="#000"/>
<rect x="811" y="627" width="1" height="6" fill="#000"/>
<rect x="826" y="627" width="1" height="6" fill="#000"/>
<rect x="840" y="627" width="1" height="18" fill="#000"/>
<rect x="853" y="627" width="1" height="6" fill="#000"/>
<rect x="867" y="627" width="1" height="6" fill="#000"/>
<rect x="881" y="627" width="1" height="6" fill="#000"/>
<rect x="895" y="627" width="1" height="18" fill="#000"/>
<rect x="909" y="627" width="1" height="6" fill="#000"/>
<rect x="922" y="627" width="1" height="6" fill="#000"/>
<rect x="937" y="627" width="1" height="6" fill="#000"/>
<rect x="951" y="627" width="1" height="6" fill="#000"/>
<rect x="960" y="617" width="1" height="10" fill="#000"/>
<rect x="960" y="616" width="27" height="1" fill="#000"/>
<rect x="986" y="617" width="1" height="10" fill="#000"/>
</g>
<defs><filter id="fa" x="0" y="0" width="1005" height="645" filterUnits="userSpaceOnUse" color-interpolation-filters="sRGB"><feComponentTransfer><feFuncA type="linear" slope="2" intercept="-0.35"/></feComponentTransfer></filter></defs>
<g filter="url(#fa)"><text x="1000.3" y="13" text-anchor="end">0.10</text>
<text x="1000.3" y="26" text-anchor="end">0.05</text>
<text x="1000.3" y="40" text-anchor="end">0.00</text>
<text x="1000.3" y="53" text-anchor="end">-0.05</text>
<text x="1000.3" y="66" text-anchor="end">-0.10</text>
<text x="1000.3" y="80" text-anchor="end">-0.15</text>
<text x="1000.3" y="94" text-anchor="end">-0.20</text>
<text x="1000.3" y="531" text-anchor="end">1.20</text>
<text x="1000.3" y="505" text-anchor="end">1.25</text>
<text x="1000.3" y="479" text-anchor="end">1.30</text>
<text x="1000.3" y="455" text-anchor="end">1.35</text>
<text x="1000.3" y="432" text-anchor="end">1.40</text>
<text x="1000.3" y="409" text-anchor="end">1.45</text>
<text x="1000.3" y="387" text-anchor="end">1.50</text>
<text x="1000.3" y="366" text-anchor="end">1.55</text>
<text x="1000.3" y="346" text-anchor="end">1.60</text>
<text x="1000.3" y="326" text-anchor="end">1.65</text>
<text x="1000.3" y="307" text-anchor="end">1.70</text>
<text x="1000.3" y="288" text-anchor="end">1.75</text>
<text x="1000.3" y="270" text-anchor="end">1.80</text>
<text x="1000.3" y="252" text-anchor="end">1.85</text>
<text x="1000.3" y="235" text-anchor="end">1.90</text>
<text x="1000.3" y="219" text-anchor="end">1.95</text>
<text x="1000.3" y="202" text-anchor="end">2.00</text>
<text x="1000.3" y="186" text-anchor="end">2.05</text>
<text x="1000.3" y="171" text-anchor="end">2.10</text>
<text x="1000.3" y="156" text-anchor="end">2.15</text>
<text x="1000.3" y="141" text-anchor="end">2.20</text>
<text x="1000.3" y="126" text-anchor="end">2.25</text>
<text x="968.5" y="581" textLength="31.7" lengthAdjust="spacing">50000</text>
<text x="-7" y="642.7" textLength="30.8" lengthAdjust="spacing">March</text>
<text x="49.8" y="642.7" textLength="20.4" lengthAdjust="spacing">April</text>
<text x="105.8" y="642.7" textLength="20.4" lengthAdjust="spacing">May</text>
<text x="174.8" y="642.7" textLength="24" lengthAdjust="spacing">June</text>
<text x="230.8" y="642.7" textLength="19.6" lengthAdjust="spacing">July</text>
<text x="285.8" y="642.7" textLength="34.4" lengthAdjust="spacing">August</text>
<text x="355.8" y="642.7" textLength="55" lengthAdjust="spacing">September</text>
<text x="480.8" y="642.7" textLength="52" lengthAdjust="spacing">November</text>
<text x="591.8" y="642.7" textLength="24" lengthAdjust="spacing">2004</text>
<text x="660.8" y="642.7" textLength="45" lengthAdjust="spacing">February</text>
<text x="716.8" y="642.7" textLength="28.6" lengthAdjust="spacing">March</text>
<text x="771.8" y="642.7" textLength="20.4" lengthAdjust="spacing">April</text>
<text x="841.8" y="642.7" textLength="20.4" lengthAdjust="spacing">May</text>
<text x="896.8" y="642.7" textLength="24" lengthAdjust="spacing">June</text>
<text y="14"><tspan x="393.8" textLength="29.2" lengthAdjust="spacing">MACD</tspan> <tspan x="427.8" textLength="51.2" lengthAdjust="spacing">(0.08921),</tspan> <tspan x="481.2" textLength="29.7" lengthAdjust="spacing">MACD</tspan> <tspan x="515.8" textLength="48.9" lengthAdjust="spacing">(0.08921)</tspan></text>
<text x="366.7" y="115.5" textLength="222.5" lengthAdjust="spacing">PTB\LBCP (2.0000, 2.0200, 1.9900, 2.0000)</text>
<text x="360.7" y="127.6" fill="#00f" textLength="21.5" lengthAdjust="spacing">2,20</text>
<text x="499.5" y="244.8" fill="#00f" textLength="46.3" lengthAdjust="spacing">1,82/1,83</text>
<text x="471.6" y="349.7" fill="#00f" textLength="19.7" lengthAdjust="spacing">1,61</text>
<text x="274.3" y="458.8" fill="#00f" textLength="21.2" lengthAdjust="spacing">1,36</text>
<text x="276.7" y="523.7" fill="#00f" textLength="21.2" lengthAdjust="spacing">1,24</text>
<text x="961.9" y="624.4" font-size="8.5" textLength="22.2" lengthAdjust="spacing" stroke="#000" stroke-width="0.25">x1000</text></g>
</svg>
</body></html>
